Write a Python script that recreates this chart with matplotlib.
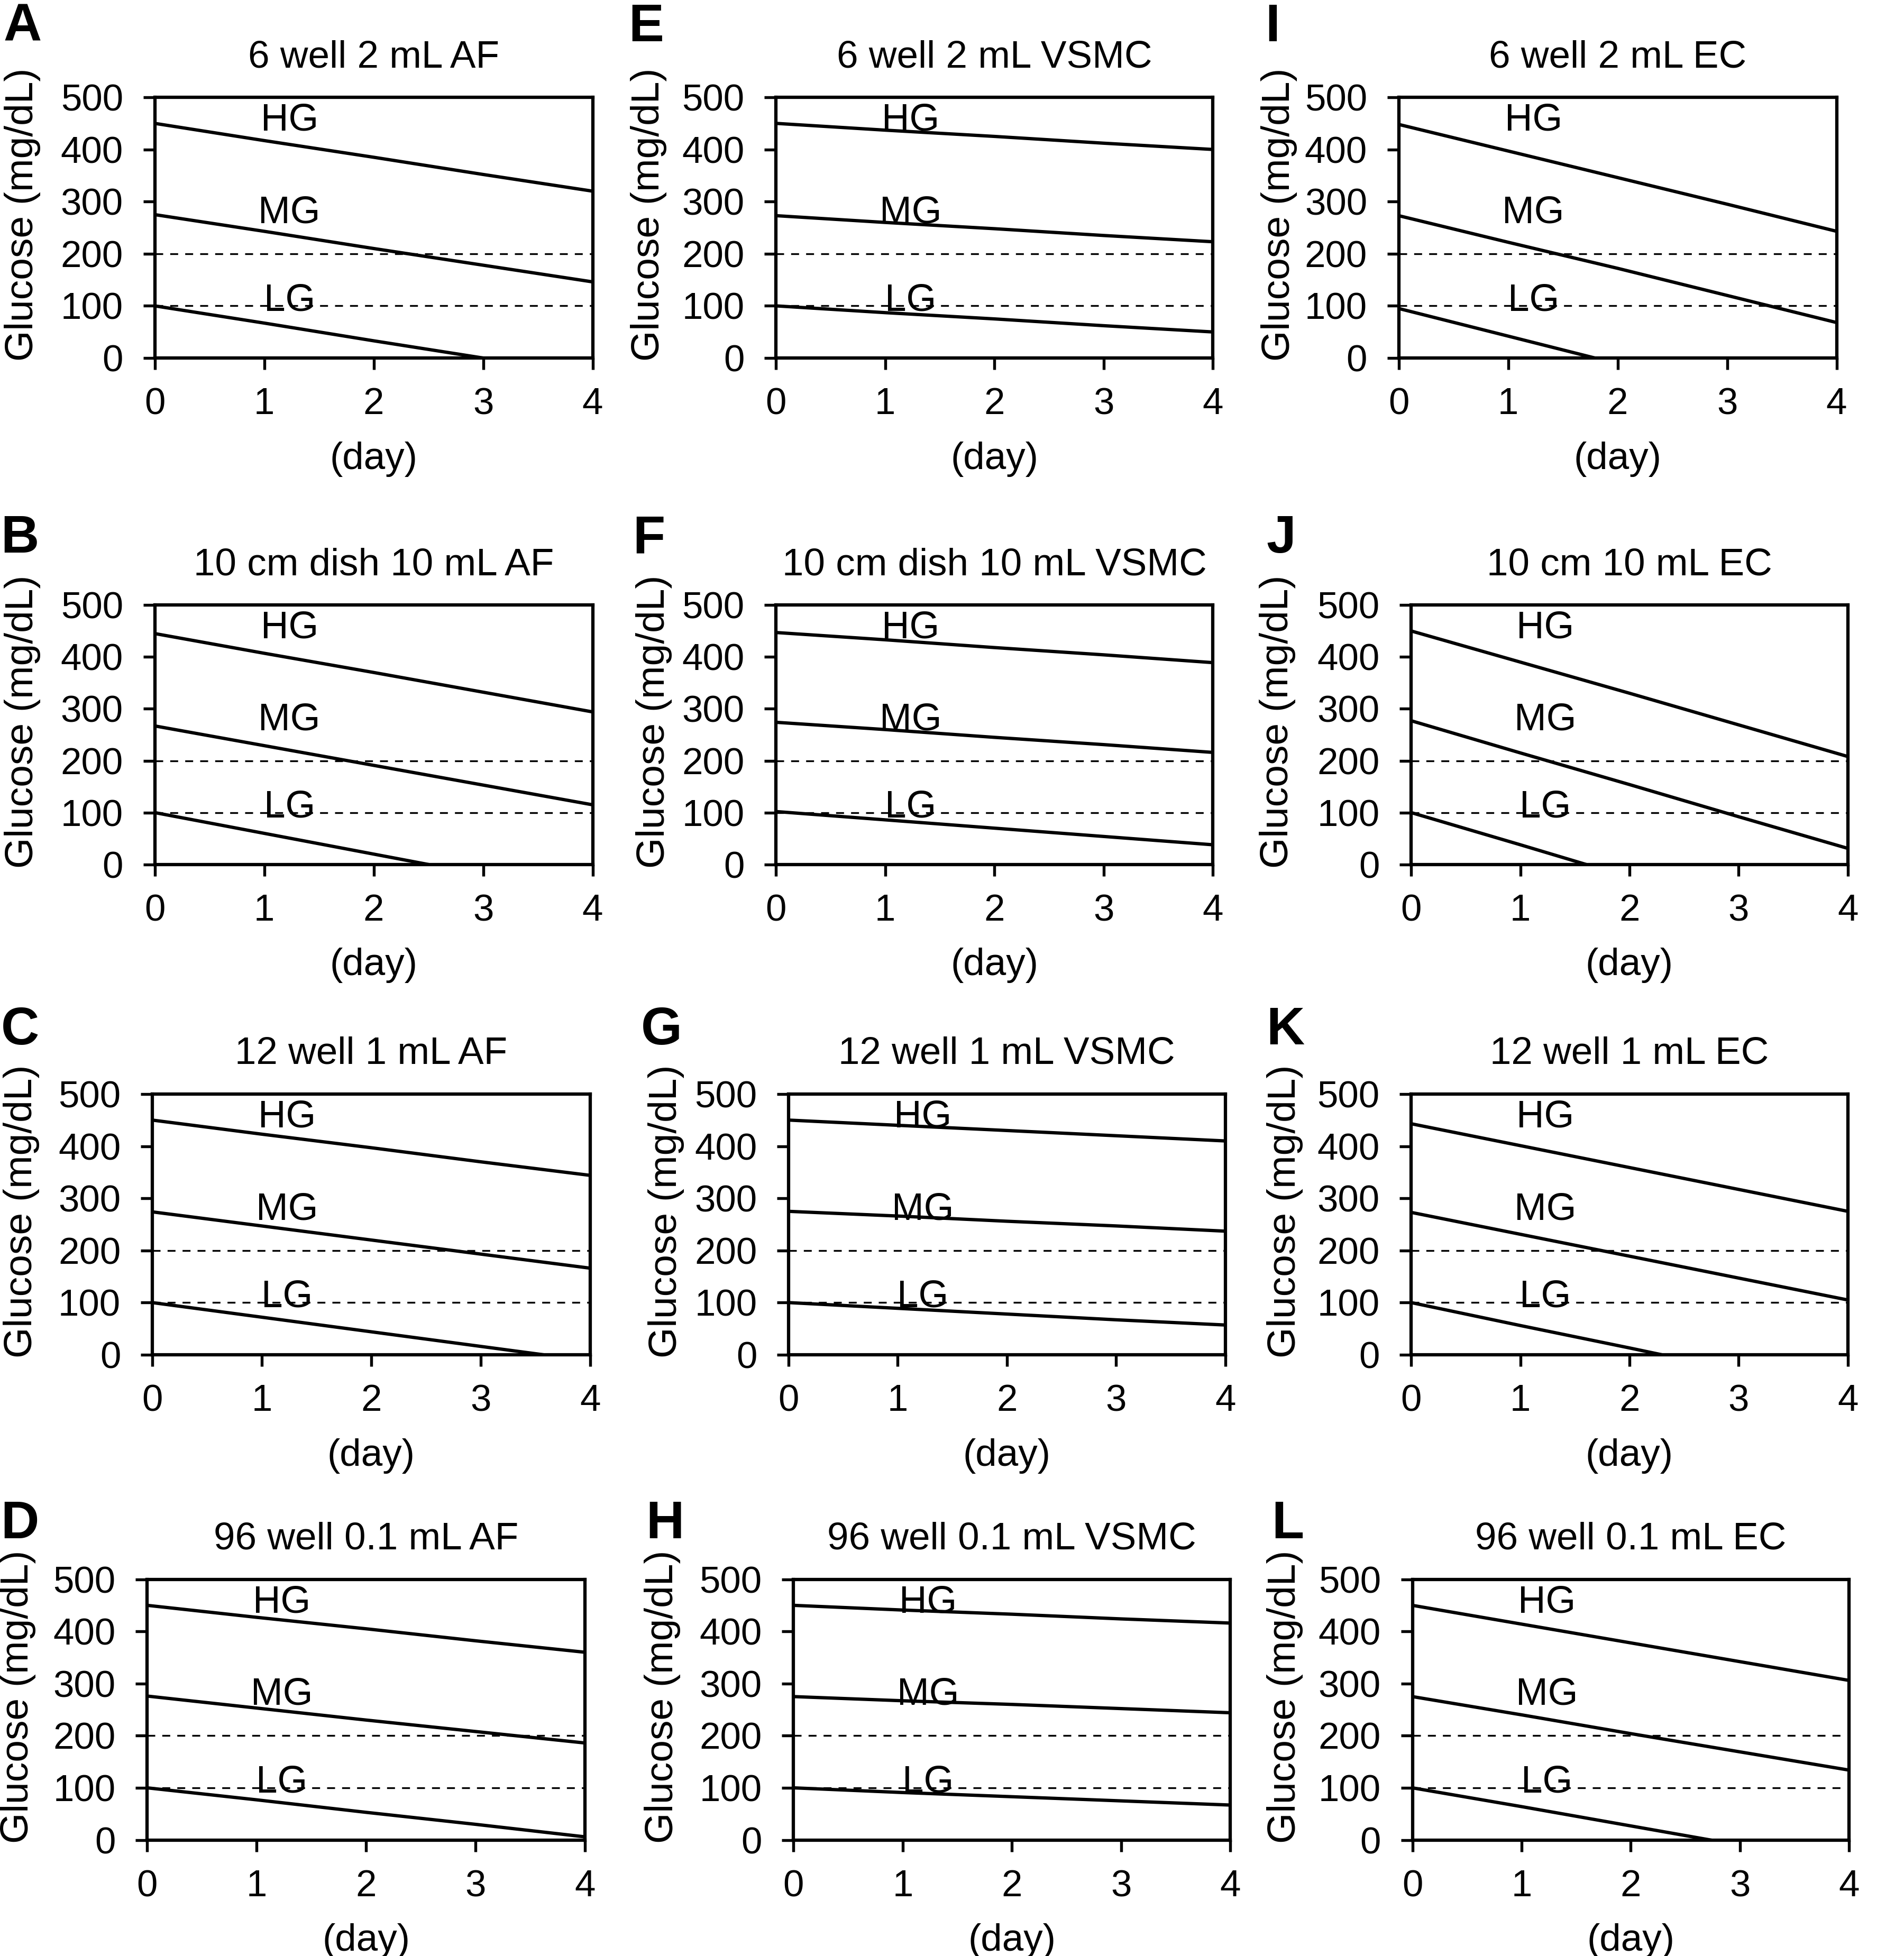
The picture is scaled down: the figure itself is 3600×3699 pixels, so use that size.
import numpy as np
import matplotlib
matplotlib.use("Agg")
import matplotlib.pyplot as plt

plt.rcParams['font.family'] = ['Liberation Sans', 'DejaVu Sans']

days = [0, 1, 2, 3, 4]
nan = np.nan

# panel letters, titles and glucose readings (mg/dL) per day
letters = ["A", "B", "C", "D", "E", "F", "G", "H", "I", "J", "K", "L"]
titles = [
    "6 well 2 mL AF", "10 cm dish 10 mL AF", "12 well 1 mL AF", "96 well 0.1 mL AF",
    "6 well 2 mL VSMC", "10 cm dish 10 mL VSMC", "12 well 1 mL VSMC", "96 well 0.1 mL VSMC",
    "6 well 2 mL EC", "10 cm 10 mL EC", "12 well 1 mL EC", "96 well 0.1 mL EC",
]
hg = [
    [450, 417, 385, 352, 320],
    [445, 407, 370, 332, 294],
    [450, 423, 397, 370, 344],
    [450, 427, 405, 382, 360],
    [450, 437, 425, 412, 400],
    [447, 433, 418, 404, 389],
    [450, 440, 430, 420, 410],
    [450, 441, 433, 424, 416],
    [448, 397, 346, 295, 243],
    [450, 390, 330, 269, 208],
    [443, 401, 359, 317, 275],
    [450, 414, 378, 342, 306],
]
mg = [
    [275, 243, 210, 178, 146],
    [267, 229, 191, 153, 115],
    [274, 247, 220, 193, 166],
    [276, 253, 230, 208, 186],
    [273, 260, 248, 235, 223],
    [274, 260, 245, 231, 216],
    [275, 266, 256, 247, 237],
    [275, 267, 260, 252, 244],
    [273, 222, 172, 120, 68],
    [277, 215, 154, 92, 31],
    [273, 231, 189, 147, 105],
    [275, 240, 204, 169, 134],
]
lg = [
    [100, 67, 33, 0, nan],
    [100, 60, 20, -20, nan],
    [100, 72, 44, 16, -12],
    [100, 77, 53, 30, 6],
    [100, 87, 75, 62, 50],
    [102, 86, 70, 54, 38],
    [100, 89, 78, 67, 57],
    [100, 91, 83, 75, 67],
    [95, 42, -11, nan, nan],
    [100, 38, -25, nan, nan],
    [100, 56, 13, -31, nan],
    [100, 64, 27, -10, nan],
]

# axes boxes in reference pixels (left, right, top, bottom) of a 1526x1568 view
W, H = 1526.0, 1568.0
boxes = [
    (124, 475, 78, 287), (124, 475, 485, 693), (122, 473, 877, 1086), (118, 469, 1266, 1475),
    (622, 972, 78, 287), (622, 972, 485, 693), (632, 982, 877, 1086), (636, 986, 1266, 1475),
    (1121, 1472, 78, 287), (1131, 1481, 485, 693), (1131, 1481, 877, 1086), (1132, 1482, 1266, 1475),
]
letter_pos = [
    (18, 22), (16, 432), (16, 826), (16, 1222),
    (518, 22), (520, 432), (530, 826), (533, 1222),
    (1020, 22), (1027, 432), (1030, 826), (1032, 1222),
]
ylabel_x = [18, 18, 17, 14, 520, 524, 534, 531, 1025, 1024, 1030, 1030]

fig = plt.figure(figsize=(12, 12.33), dpi=300)

for i in range(12):
    l, r, t, b = boxes[i]
    ax = fig.add_axes([l / W, 1 - b / H, (r - l) / W, (b - t) / H])

    ax.axhline(200, color='black', lw=0.8, dashes=(4.5, 4))
    ax.axhline(100, color='black', lw=0.8, dashes=(4.5, 4))
    for series in (hg[i], mg[i], lg[i]):
        ax.plot(days, series, color='black', lw=1.5)

    ax.text(1.23, 455, "HG", fontsize=17.5, ha='center', va='center')
    ax.text(1.23, 278, "MG", fontsize=17.5, ha='center', va='center')
    ax.text(1.23, 110, "LG", fontsize=17.5, ha='center', va='center')

    ax.set_xlim(0, 4)
    ax.set_ylim(0, 500)
    ax.set_xticks(days)
    ax.set_yticks([0, 100, 200, 300, 400, 500])
    ax.tick_params(axis='both', direction='out', length=5.3, width=1.3, labelsize=17)
    ax.tick_params(axis='x', pad=8)
    ax.tick_params(axis='y', pad=9)
    for spine in ax.spines.values():
        spine.set_linewidth(1.5)

    ax.text(0.5, 1 + 32 / (b - t), titles[i], transform=ax.transAxes,
            fontsize=17.5, ha='center', va='center')
    ax.set_ylabel("Glucose (mg/dL)", fontsize=18, va='center')
    ax.yaxis.set_label_coords((ylabel_x[i] - l) / (r - l), 0.55)
    ax.set_xlabel("(day)", fontsize=17.5, va='center')
    ax.xaxis.set_label_coords(0.5, -81 / (b - t))

    lx, ly = letter_pos[i]
    fig.text(lx / W, 1 - ly / H, letters[i], fontsize=24, fontweight='bold',
             ha='center', va='center')

fig.savefig("out.png", dpi=300)
